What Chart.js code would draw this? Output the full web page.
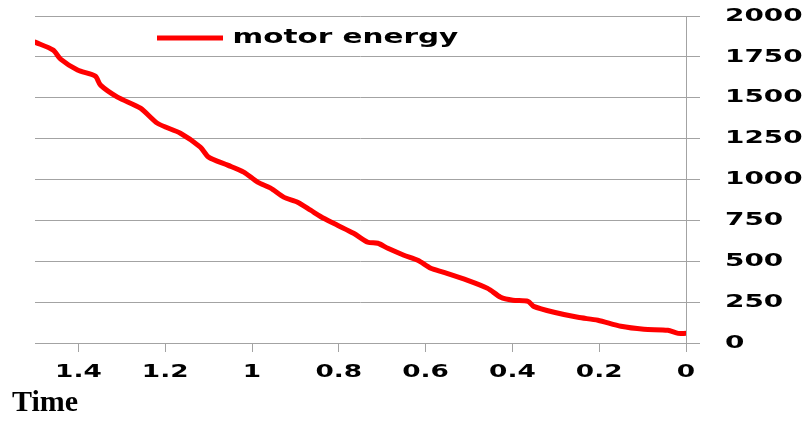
<!DOCTYPE html>
<html>
<head>
<meta charset="utf-8">
<title>motor energy</title>
<script src="https://cdn.jsdelivr.net/npm/chart.js@4.4.1/dist/chart.umd.min.js"></script>
<style>
  body { margin: 0; background: #fff; }
  canvas { display: block; }
</style>
</head>
<body>
<canvas id="chart" width="809" height="421"></canvas>
<script>
// values (time runs right-to-left)
const times = [1.5, 1.458, 1.441, 1.402, 1.361, 1.349, 1.31, 1.257, 1.218, 1.165,
    1.119, 1.1, 1.056, 1.019, 0.987, 0.957, 0.927, 0.895, 0.865, 0.835,
    0.803, 0.766, 0.733, 0.71, 0.687, 0.65, 0.618, 0.588, 0.558, 0.503,
    0.457, 0.427, 0.399, 0.364, 0.351, 0.304, 0.249, 0.203, 0.15, 0.097,
    0.042, 0.018, 0];
const motorEnergy = [1840, 1791, 1736, 1669, 1632, 1577, 1504, 1436, 1344, 1283,
    1198, 1137, 1088, 1045, 984, 947, 892, 861, 812, 763,
    720, 671, 616, 610, 579, 537, 506, 457, 432, 383,
    334, 280, 262, 255, 224, 188, 157, 139, 102, 84,
    78, 59, 59];
const timeTicks = [0, 0.2, 0.4, 0.6, 0.8, 1, 1.2, 1.4];
const energyTicks = [0, 250, 500, 750, 1000, 1250, 1500, 1750, 2000];

const canvas = document.getElementById("chart");
const ctx = canvas.getContext("2d");

// the original labels are a wide bold sans, stretched sideways
const plainFill = ctx.fillText.bind(ctx);
ctx.fillText = function (text, x, y) {
    if (this.font.indexOf("DejaVu") < 0) return plainFill(text, x, y);
    this.save();
    this.translate(x, y);
    this.scale(1.55, 1);
    plainFill(text, 0, 0);
    this.restore();
};

const placeBoxes = {
    id: "placeBoxes",
    afterLayout(chart) {
        const lg = chart.legend;
        lg.left = 147; lg.right = 700; lg.top = 18.5;
        const tb = chart.titleBlock;
        tb.left = 12; tb.right = 400;
    }
};

const gridGray = "#a3a3a3";

new Chart(ctx, {
    type: "line",
    data: {
        labels: times,
        datasets: [{
            label: "motor energy",
            data: times.map((t, i) => ({ x: t, y: motorEnergy[i] })),
            borderColor: "#ff0000",
            backgroundColor: "#ff0000",
            borderWidth: 5,
            borderCapStyle: "round",
            borderJoinStyle: "round",
            pointRadius: 0,
            tension: 0.25
        }]
    },
    options: {
        responsive: false,
        animation: false,
        color: "#000",
        layout: { padding: { left: 35, top: 16, right: 0, bottom: 0 } },
        plugins: {
            legend: {
                position: "chartArea",
                align: "start",
                labels: {
                    usePointStyle: true,
                    pointStyle: "line",
                    pointStyleWidth: 66,
                    padding: 10,
                    color: "#000",
                    font: { family: "DejaVu Sans", size: 19, weight: "bold" }
                }
            },
            title: {
                display: true,
                text: "Time",
                position: "bottom",
                align: "start",
                color: "#000",
                padding: 0,
                font: { family: "Liberation Serif", size: 30, weight: "bold", lineHeight: 1.2 }
            },
            tooltip: { enabled: false }
        },
        scales: {
            x: {
                type: "linear",
                reverse: true,
                min: 0,
                max: 1.5,
                afterBuildTicks: s => { s.ticks = timeTicks.map(v => ({ value: v })); },
                afterFit: s => { s.height = 42; s.paddingLeft = 0; s.paddingRight = 0; },
                grid: { drawOnChartArea: false, color: gridGray, tickLength: 9 },
                border: { color: gridGray },
                ticks: {
                    padding: 10,
                    color: "#000",
                    maxRotation: 0,
                    font: { family: "DejaVu Sans", size: 17, weight: "bold" },
                    callback: v => String(Math.round(v * 10) / 10)
                }
            },
            y: {
                position: "right",
                min: 0,
                max: 2000,
                afterBuildTicks: s => { s.ticks = energyTicks.map(v => ({ value: v })); },
                afterFit: s => { s.width = 123; s.paddingTop = 0; s.paddingBottom = 0; },
                grid: { color: gridGray, tickLength: 14 },
                border: { color: gridGray },
                ticks: {
                    padding: 25,
                    color: "#000",
                    font: { family: "DejaVu Sans", size: 18, weight: "bold" },
                    callback: v => String(v)
                }
            }
        }
    },
    plugins: [placeBoxes]
});
</script>
</body>
</html>
